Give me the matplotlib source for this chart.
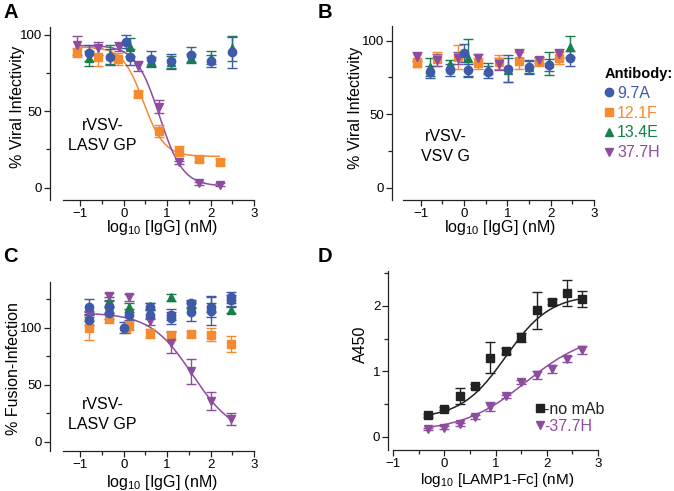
import numpy as np
import matplotlib
matplotlib.use("Agg")
import matplotlib.pyplot as plt
from matplotlib.lines import Line2D
from matplotlib.ticker import MultipleLocator

plt.rcParams['font.family'] = ['Liberation Sans', 'DejaVu Sans']
plt.rcParams['mathtext.fontset'] = 'custom'
plt.rcParams['mathtext.rm'] = 'Liberation Sans'
plt.rcParams['mathtext.it'] = 'Liberation Sans:italic'
plt.rcParams['mathtext.bf'] = 'Liberation Sans:bold'

BLUE = '#3F5AA8'
ORANGE = '#F58A2E'
GREEN = '#17804A'
PURPLE = '#8E4C9E'
DARK = '#222222'

# ---------------- Panel A data ----------------
a_blue_x = [-0.79, -0.31, 0.06, 0.15, 0.62, 1.08, 1.54, 2.01, 2.49]
a_blue_y = [88, 85.5, 95.5, 85.5, 84, 82.5, 87, 83, 88.5]
a_blue_e = [5, 5, 4, 5, 5, 5, 5, 4, 10]
a_green_x = [-0.79, -0.31, 0.15, 0.62, 1.08, 1.54, 2.01, 2.49]
a_green_y = [84.5, 87, 92, 82.5, 82, 84.5, 85, 91]
a_green_e = [5, 6, 6, 3, 4, 3, 4, 8]
a_orange_x = [-1.08, -0.59, -0.14, 0.32, 0.80, 1.28, 1.74, 2.22]
a_orange_y = [88.5, 85.5, 84, 61, 37, 24, 18.5, 17]
a_orange_e = [3, 6, 4, 2, 4, 3, 2, 2]
a_purple_x = [-1.08, -0.59, -0.11, 0.32, 0.80, 1.28, 1.74, 2.22]
a_purple_y = [93, 91, 92, 79.5, 53, 16.5, 3, 2]
a_purple_e = [6, 4, 3, 3, 4, 1, 1, 1]
# fitted curves: bottom, top, logEC50, hill (negative hill = rising curve)
a_orange_fit = [20.5, 92, 0.45, 1.8]
a_purple_fit = [1, 93, 0.82, 1.6]

# ---------------- Panel B data ----------------
b_blue_x = [-0.78, -0.32, 0.0, 0.09, 0.55, 1.02, 1.49, 1.95, 2.44]
b_blue_y = [78.5, 80, 91.5, 80, 78.5, 81, 82, 83.5, 88]
b_blue_e = [4, 4, 6, 4, 4, 9, 5, 4, 5]
b_green_x = [-0.78, -0.32, 0.09, 0.55, 1.02, 1.49, 1.95, 2.44]
b_green_y = [82, 84, 88, 81, 80, 82, 84.5, 96]
b_green_e = [6, 3, 13, 4, 8, 4, 8, 7]
b_orange_x = [-1.09, -0.62, -0.15, 0.33, 0.80, 1.27, 1.73, 2.2]
b_orange_y = [85, 87.5, 89, 84.5, 85.5, 86.5, 86, 88]
b_orange_e = [3, 5, 8, 4, 5, 6, 3, 4]
b_purple_x = [-1.09, -0.62, -0.15, 0.33, 0.80, 1.27, 1.73, 2.2]
b_purple_y = [89, 87, 88, 88, 84, 91, 87, 91]
b_purple_e = [3, 4, 4, 3, 4, 3, 2, 3]

# ---------------- Panel C data ----------------
c_blue_x = [-0.79, -0.79, -0.35, -0.35, 0.0, 0.12, 0.6, 0.6, 1.09, 1.09, 1.55, 1.55, 2.01, 2.01, 2.48, 2.48]
c_blue_y = [118.5, 107, 118, 113, 100, 111.5, 111.5, 118.5, 111.5, 108.5, 121.5, 114, 118, 115, 126.5, 124]
c_blue_e = [7, 5, 5, 5, 5, 5, 4, 3, 5, 5, 3, 8, 9, 13, 5, 5]
c_green_x = [-0.79, -0.35, 0.12, 0.6, 1.09, 1.55, 2.01, 2.48]
c_green_y = [110, 123, 118, 119, 126.5, 120, 118, 115.5]
c_green_e = [4, 4, 4, 3, 3, 3, 4, 3]
c_orange_x = [-0.79, -0.35, 0.06, 0.12, 0.6, 1.09, 1.55, 2.01, 2.48]
c_orange_y = [100, 108.5, 100, 102, 95, 93, 94.5, 94, 86]
c_orange_e = [11, 4, 5, 4, 4, 4, 3, 6, 7]
c_purple_x = [-0.79, -0.35, 0.12, 0.6, 1.09, 1.55, 2.01, 2.48]
c_purple_y = [112, 127.5, 126.5, 105.5, 87, 62, 36, 20]
c_purple_e = [3, 3, 3, 3, 9, 11, 8, 5]
c_purple_fit = [5, 113, 1.58, 0.9]

# ---------------- Panel D data ----------------
d_x = [-0.32, 0.0, 0.3, 0.6, 0.9, 1.2, 1.5, 1.81, 2.1, 2.39, 2.68]
d_nomab_y = [0.33, 0.43, 0.62, 0.77, 1.21, 1.31, 1.52, 1.93, 2.06, 2.19, 2.10]
d_nomab_e = [0.02, 0.02, 0.12, 0.03, 0.23, 0.04, 0.07, 0.28, 0.04, 0.2, 0.12]
d_mab_y = [0.12, 0.14, 0.19, 0.30, 0.46, 0.62, 0.84, 0.94, 1.04, 1.19, 1.32]
d_mab_e = [0.02, 0.02, 0.02, 0.03, 0.07, 0.02, 0.03, 0.06, 0.06, 0.05, 0.06]
d_nomab_fit = [0.28, 2.17, 1.2, -1.0]
d_mab_fit = [0.08, 1.6, 1.6, -0.7]
d_labels = ['no mAb', '37.7H']

antibodies = ['9.7A', '12.1F', '13.4E', '37.7H']
ab_colors = [BLUE, ORANGE, GREEN, PURPLE]
ab_markers = ['o', 's', '^', 'v']


def logistic(x, p):
    b, t, ec, h = p
    return b + (t - b) / (1 + 10 ** ((x - ec) * h))


W, H = 674, 491
fig = plt.figure(figsize=(W / 100, H / 100), dpi=100)


def make_ax(left, right, top, bottom, offset):
    ax = fig.add_axes([left / W, 1 - bottom / H, (right - left) / W, (bottom - top) / H])
    for s in ['top', 'right']:
        ax.spines[s].set_visible(False)
    ax.spines['left'].set_position(('outward', offset * 0.72))
    for s in ['left', 'bottom']:
        ax.spines[s].set_color(DARK)
        ax.spines[s].set_linewidth(0.9)
    ax.tick_params(which='both', direction='out', color=DARK, width=0.9,
                   labelsize=9.5, pad=1.5)
    ax.tick_params(which='major', length=4)
    ax.tick_params(which='minor', length=3)
    ax.set_facecolor('none')
    return ax


MS = 6


def series(ax, x, y, e, color, marker, ms=MS):
    ax.errorbar(x, y, yerr=e, fmt=marker, color=color, ms=ms, mec=color,
                elinewidth=1.0, capsize=3.4, capthick=1.0, zorder=3)


XLABEL = r'$\mathrm{log}_{10}$ [IgG] (nM)'
LFS = 11.5


def labels(ax, xl, yl, xlc, ylc, fs=LFS):
    ax.set_xlabel(xl, fontsize=fs, va='top')
    ax.set_ylabel(yl, fontsize=LFS)
    ax.xaxis.set_label_coords(*xlc)
    ax.yaxis.set_label_coords(*ylc)


# ---------- A ----------
axA = make_ax(63, 254, 27, 200, 13)
axA.set_xlim(-1.4, 3)
axA.set_ylim(-8, 105)
series(axA, a_green_x, a_green_y, a_green_e, GREEN, '^')
series(axA, a_orange_x, a_orange_y, a_orange_e, ORANGE, 's')
series(axA, a_purple_x, a_purple_y, a_purple_e, PURPLE, 'v')
series(axA, a_blue_x, a_blue_y, a_blue_e, BLUE, 'o')
xx = np.linspace(-1.1, 2.2, 200)
axA.plot(xx, logistic(xx, a_orange_fit), color=ORANGE, lw=1.1, zorder=2)
axA.plot(xx, logistic(xx, a_purple_fit), color=PURPLE, lw=1.1, zorder=2)
axA.set_yticks([0, 50, 100])
axA.yaxis.set_minor_locator(MultipleLocator(25))
axA.set_xticks([-1, 0, 1, 2, 3])
axA.xaxis.set_minor_locator(MultipleLocator(0.5))
labels(axA, XLABEL, '% Viral Infectivity', (0.52, -0.105), (-0.2, 0.54))
axA.text(-0.49, 34, 'rVSV-\nLASV GP', fontsize=LFS, ha='center', va='center',
         linespacing=1.45)

# ---------- B ----------
axB = make_ax(403, 594, 26, 200, 11)
axB.set_xlim(-1.41, 3)
axB.set_ylim(-8.5, 110)
series(axB, b_green_x, b_green_y, b_green_e, GREEN, '^')
series(axB, b_orange_x, b_orange_y, b_orange_e, ORANGE, 's')
series(axB, b_purple_x, b_purple_y, b_purple_e, PURPLE, 'v')
series(axB, b_blue_x, b_blue_y, b_blue_e, BLUE, 'o')
axB.set_yticks([0, 50, 100])
axB.yaxis.set_minor_locator(MultipleLocator(25))
axB.set_xticks([-1, 0, 1, 2, 3])
axB.xaxis.set_minor_locator(MultipleLocator(0.5))
labels(axB, XLABEL, '% Viral Infectivity', (0.51, -0.105), (-0.21, 0.53))
axB.text(-0.43, 28, 'rVSV-\nVSV G', fontsize=LFS, ha='center', va='center',
         linespacing=1.45)

# legend for antibodies
handles = [Line2D([], [], ls='none', marker=m, color=c, ms=MS)
           for m, c in zip(ab_markers, ab_colors)]
leg = fig.legend(handles, antibodies, loc='upper left',
                 bbox_to_anchor=(605 / W, 1 - 67 / H), frameon=False,
                 title='Antibody:', fontsize=LFS, title_fontsize=10.5,
                 handlelength=0.55, handletextpad=0.2, labelspacing=0.3,
                 borderpad=0, borderaxespad=0)
leg._legend_box.align = 'left'
leg.get_title().set_fontweight('bold')
for t, c in zip(leg.get_texts(), ab_colors):
    t.set_color(c)

# ---------- C ----------
axC = make_ax(63, 254, 282, 451, 13)
axC.set_xlim(-1.4, 3)
axC.set_ylim(-8, 140)
series(axC, c_green_x, c_green_y, c_green_e, GREEN, '^')
series(axC, c_orange_x, c_orange_y, c_orange_e, ORANGE, 's')
series(axC, c_purple_x, c_purple_y, c_purple_e, PURPLE, 'v')
series(axC, c_blue_x, c_blue_y, c_blue_e, BLUE, 'o')
xc = np.linspace(-0.8, 2.5, 200)
axC.plot(xc, logistic(xc, c_purple_fit), color=PURPLE, lw=1.1, zorder=2)
axC.set_yticks([0, 50, 100])
axC.yaxis.set_minor_locator(MultipleLocator(25))
axC.set_xticks([-1, 0, 1, 2, 3])
axC.xaxis.set_minor_locator(MultipleLocator(0.5))
labels(axC, XLABEL, '% Fusion-Infection', (0.52, -0.128), (-0.22, 0.485))
axC.text(-0.49, 24, 'rVSV-\nLASV GP', fontsize=LFS, ha='center', va='center',
         linespacing=1.45)

# ---------- D ----------
axD = make_ax(393, 598, 271, 450, 5)
axD.set_xlim(-1, 3)
axD.set_ylim(-0.2, 2.53)
series(axD, d_x, d_nomab_y, d_nomab_e, DARK, 's', ms=5.5)
series(axD, d_x, d_mab_y, d_mab_e, PURPLE, 'v', ms=5.5)
xd = np.linspace(-0.32, 2.68, 200)
axD.plot(xd, logistic(xd, d_nomab_fit), color=DARK, lw=1.1, zorder=2)
axD.plot(xd, logistic(xd, d_mab_fit), color=PURPLE, lw=1.1, zorder=2)
axD.set_yticks([0, 1, 2])
axD.yaxis.set_minor_locator(MultipleLocator(0.5))
axD.set_xticks([-1, 0, 1, 2, 3])
axD.xaxis.set_minor_locator(MultipleLocator(0.5))
labels(axD, r'$\mathrm{log}_{10}$ [LAMP1-Fc] (nM)', 'A450', (0.51, -0.118),
       (-0.12, 0.59), fs=11)
hD = [Line2D([], [], ls='none', marker='s', color=DARK, ms=5.5),
      Line2D([], [], ls='none', marker='v', color=PURPLE, ms=5.5)]
legD = axD.legend(hD, ['-' + s for s in d_labels], loc='upper left',
                  bbox_to_anchor=(0.7, 0.27), frameon=False, fontsize=LFS,
                  handlelength=0.5, handletextpad=0.0, labelspacing=0.15,
                  borderpad=0, borderaxespad=0)
for t, c in zip(legD.get_texts(), [DARK, PURPLE]):
    t.set_color(c)

# panel letters
for lab, (px, py) in zip('ABCD', [(3, 3), (318, 3), (3, 247), (318, 247)]):
    fig.text(px / W, 1 - py / H, lab, fontsize=14.5, fontweight='bold',
             ha='left', va='top')

fig.savefig('out.png', dpi=100)
